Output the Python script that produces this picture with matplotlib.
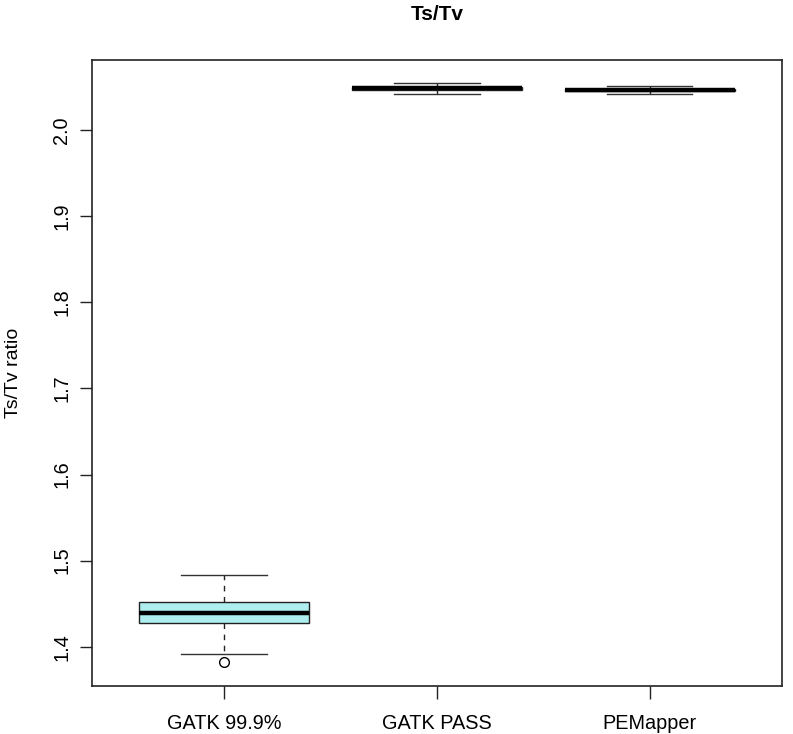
"""Ts/Tv ratio per caller, drawn as R-style boxplots."""

import matplotlib
matplotlib.use("Agg")
import matplotlib.pyplot as plt

plt.rcParams["font.family"] = ["Liberation Sans", "DejaVu Sans"]

categories = ["GATK 99.9%", "GATK PASS", "PEMapper"]
whisker_low = [1.392, 2.042, 2.042]
q1 = [1.428, 2.047, 2.0455]
median = [1.439, 2.0484, 2.0465]
q3 = [1.452, 2.0495, 2.0475]
whisker_high = [1.483, 2.055, 2.051]
outliers = [[1.382], [], []]
y_ticks = [1.4, 1.5, 1.6, 1.7, 1.8, 1.9, 2.0]

stats = []
for i, name in enumerate(categories):
    stats.append({
        "label": name, "whislo": whisker_low[i], "q1": q1[i], "med": median[i],
        "q3": q3[i], "whishi": whisker_high[i], "fliers": outliers[i],
    })

fig = plt.figure(figsize=(7.93, 7.34), dpi=100)
ax = fig.add_axes([0.116, 0.0654, 0.870, 0.8528])

ax.bxp(
    stats, positions=[1, 2, 3], widths=0.8, patch_artist=True,
    boxprops={"facecolor": "#afeeee", "edgecolor": "#222222", "linewidth": 1.0},
    medianprops={"color": "black", "linewidth": 3.2, "solid_capstyle": "butt"},
    whiskerprops={"color": "#222222", "linewidth": 1.0, "linestyle": (0, (4, 4))},
    capprops={"color": "#333333", "linewidth": 1.0},
    flierprops={"marker": "o", "markerfacecolor": "none", "markeredgecolor": "black",
                "markersize": 7, "markeredgewidth": 1.0},
    capwidths=0.4,
)

ax.set_xlim(0.38, 3.62)
ax.set_ylim(1.3544, 2.0813)
ax.set_xticks([1, 2, 3])
ax.set_xticklabels(categories, fontsize=14.3)
ax.set_yticks(y_ticks)
ax.set_yticklabels([f"{v:.1f}" for v in y_ticks], fontsize=14.3, rotation=90, va="center")
ax.tick_params(axis="both", length=9, width=1.0, color="#222222")
ax.tick_params(axis="x", pad=11)
ax.tick_params(axis="y", pad=6)
for sp in ax.spines.values():
    sp.set_linewidth(1.2)
    sp.set_color("#222222")

ax.set_ylabel("Ts/Tv ratio", fontsize=14, labelpad=22)
ax.set_title("Ts/Tv", fontsize=15, fontweight="bold", pad=29)

fig.savefig("out.png", dpi=100)
